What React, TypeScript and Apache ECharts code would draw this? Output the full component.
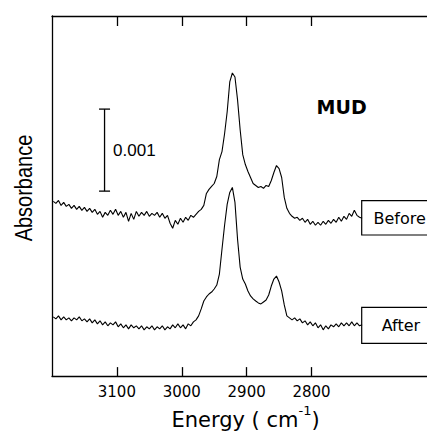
import React, { useEffect, useRef } from "react";
import * as echarts from "echarts";

// Energy grid (cm-1), shared by both spectra
const energy = [
  3198, 3194, 3190, 3186, 3182, 3178, 3174, 3170, 3166, 3162, 3158, 3154, 3150, 3146, 3142, 3138, 3134, 3130, 3126, 3122,
  3118, 3114, 3110, 3106, 3102, 3098, 3094, 3090, 3086, 3082, 3078, 3074, 3070, 3066, 3062, 3058, 3054, 3050, 3046, 3042,
  3038, 3034, 3030, 3026, 3022, 3018, 3014, 3010, 3006, 3002, 2998, 2994, 2990, 2986, 2982, 2978, 2974, 2970, 2966, 2962,
  2958, 2954, 2950, 2946, 2942, 2938, 2934, 2930, 2926, 2922, 2918, 2914, 2910, 2906, 2902, 2898, 2894, 2890, 2886, 2882,
  2878, 2874, 2870, 2866, 2862, 2858, 2854, 2850, 2846, 2842, 2838, 2834, 2830, 2826, 2822, 2818, 2814, 2810, 2806, 2802,
  2798, 2794, 2790, 2786, 2782, 2778, 2774, 2770, 2766, 2762, 2758, 2754, 2750, 2746, 2742, 2738, 2734, 2730, 2726, 2722,
];

// Absorbance (units of 0.001), offset spectra
const before = [
  2.130, 2.106, 2.142, 2.081, 2.118, 2.069, 2.093, 2.045, 2.081, 2.033, 2.069, 2.021, 2.057, 2.008, 2.045, 1.996, 2.033, 1.972, 2.008, 1.936,
  1.996, 1.960, 2.021, 1.972, 2.033, 1.960, 2.008, 1.936, 1.996, 1.887, 1.984, 1.911, 2.008, 1.948, 1.996, 1.960, 2.008, 1.948, 1.984, 1.960,
  1.996, 1.936, 1.984, 1.924, 1.960, 1.863, 1.802, 1.899, 1.851, 1.924, 1.875, 1.936, 1.899, 1.960, 1.936, 1.972, 2.008, 2.033, 2.081, 2.227,
  2.276, 2.312, 2.348, 2.433, 2.640, 2.737, 2.955, 3.222, 3.586, 3.695, 3.647, 3.368, 3.004, 2.700, 2.579, 2.494, 2.421, 2.348, 2.324, 2.300,
  2.312, 2.288, 2.324, 2.312, 2.385, 2.482, 2.567, 2.530, 2.421, 2.178, 2.045, 1.984, 1.948, 1.924, 1.936, 1.899, 1.924, 1.875, 1.911, 1.851,
  1.887, 1.839, 1.875, 1.839, 1.887, 1.851, 1.899, 1.863, 1.911, 1.875, 1.936, 1.887, 1.948, 1.911, 1.984, 1.948, 2.021, 1.960, 1.936, 1.924,
];

const after = [
  0.722, 0.698, 0.734, 0.686, 0.722, 0.686, 0.710, 0.674, 0.710, 0.686, 0.722, 0.674, 0.698, 0.661, 0.698, 0.649, 0.686, 0.637, 0.674, 0.625,
  0.661, 0.613, 0.649, 0.625, 0.661, 0.601, 0.637, 0.589, 0.625, 0.576, 0.625, 0.589, 0.613, 0.576, 0.613, 0.564, 0.601, 0.576, 0.613, 0.564,
  0.601, 0.576, 0.613, 0.564, 0.601, 0.576, 0.625, 0.589, 0.637, 0.589, 0.625, 0.576, 0.637, 0.613, 0.661, 0.686, 0.734, 0.819, 0.916, 0.965,
  1.001, 1.025, 1.062, 1.110, 1.244, 1.547, 1.839, 2.093, 2.239, 2.300, 2.118, 1.669, 1.329, 1.183, 1.123, 1.038, 0.977, 0.941, 0.916, 0.892,
  0.880, 0.904, 0.928, 0.989, 1.098, 1.183, 1.220, 1.147, 1.038, 0.868, 0.734, 0.710, 0.686, 0.710, 0.674, 0.698, 0.649, 0.674, 0.625, 0.661,
  0.613, 0.649, 0.589, 0.625, 0.564, 0.613, 0.576, 0.625, 0.601, 0.637, 0.601, 0.649, 0.613, 0.649, 0.613, 0.661, 0.613, 0.649, 0.613, 0.625,
];

const xTicks = [3100, 3000, 2900, 2800];
const xMin = 2622;
const xMax = 3200;
// Scale bar: [energy, bottom, top] -> 0.001 absorbance
const scaleBar = [[3119, 2.255, 3.255]];
const scaleBarLabel = "0.001";

const FONT = "DejaVu Sans";

export default function App() {
  const ref = useRef<HTMLDivElement>(null);
  useEffect(() => {
    if (!ref.current) return;
    const chart = echarts.init(ref.current, undefined, { renderer: "svg" });
    const axisLineStyle = { color: "#000", width: 1.3 };
    chart.setOption({
      animation: false,
      backgroundColor: "#fff",
      grid: { left: 52, top: 16, right: 0, height: 361.5, containLabel: false },
      xAxis: [
        {
          type: "value",
          min: xMin,
          max: xMax,
          inverse: true,
          position: "bottom",
          axisLine: { show: true, onZero: false, lineStyle: axisLineStyle },
          axisTick: { show: true, inside: true, length: 9, customValues: xTicks, lineStyle: axisLineStyle },
          axisLabel: {
            show: true,
            customValues: xTicks,
            margin: 8,
            color: "#000",
            fontFamily: FONT,
            fontSize: 15,
            formatter: (v: number) => String(v),
          },
          splitLine: { show: false },
          name: "{a|Energy ( cm}{s|-1}{a|)}",
          nameLocation: "middle",
          nameGap: 27,
          nameTextStyle: {
            padding: [0, 0, 0, 12],
            rich: {
              a: { fontFamily: FONT, fontSize: 21, color: "#000", lineHeight: 26, verticalAlign: "bottom" },
              s: { fontFamily: FONT, fontSize: 13, color: "#000", lineHeight: 26, verticalAlign: "top" },
            },
          },
        },
        {
          type: "value",
          min: xMin,
          max: xMax,
          inverse: true,
          position: "top",
          axisLine: { show: true, onZero: false, lineStyle: axisLineStyle },
          axisTick: { show: true, inside: true, length: 10, customValues: xTicks, lineStyle: axisLineStyle },
          axisLabel: { show: false },
          splitLine: { show: false },
        },
      ],
      yAxis: {
        type: "value",
        min: 0,
        max: 4.39,
        axisLine: { show: true, onZero: false, lineStyle: axisLineStyle },
        axisTick: { show: false },
        axisLabel: { show: false },
        splitLine: { show: false },
      },
      series: [
        {
          name: "Before",
          type: "line",
          xAxisIndex: 0,
          data: energy.map((e, i) => [e, before[i]]),
          showSymbol: false,
          symbol: "none",
          lineStyle: { color: "#000", width: 1.1 },
        },
        {
          name: "After",
          type: "line",
          xAxisIndex: 0,
          data: energy.map((e, i) => [e, after[i]]),
          showSymbol: false,
          symbol: "none",
          lineStyle: { color: "#000", width: 1.1 },
        },
        {
          type: "custom",
          xAxisIndex: 0,
          data: scaleBar,
          encode: { x: 0, y: [1, 2] },
          renderItem: (params: any, api: any) => {
            const x = api.value(0);
            const bot = api.coord([x, api.value(1)]);
            const top = api.coord([x, api.value(2)]);
            const w = 5.5;
            const st = { stroke: "#000", lineWidth: 1.3 };
            return {
              type: "group",
              children: [
                { type: "line", shape: { x1: top[0], y1: top[1], x2: bot[0], y2: bot[1] }, style: st },
                { type: "line", shape: { x1: top[0] - w, y1: top[1], x2: top[0] + w, y2: top[1] }, style: st },
                { type: "line", shape: { x1: bot[0] - w, y1: bot[1], x2: bot[0] + w, y2: bot[1] }, style: st },
                {
                  type: "text",
                  x: bot[0] + 8.5,
                  y: (top[1] + bot[1]) / 2,
                  style: {
                    text: scaleBarLabel,
                    fill: "#000",
                    font: `17px "Liberation Sans"`,
                    textAlign: "left",
                    textVerticalAlign: "middle",
                  },
                },
              ],
            };
          },
        },
      ],
      graphic: [
        {
          type: "text",
          x: 24,
          y: 188,
          rotation: Math.PI / 2,
          scaleY: 1.15,
          style: {
            text: "Absorbance",
            fill: "#000",
            font: `20px "Liberation Sans"`,
            textAlign: "center",
            textVerticalAlign: "middle",
          },
        },
        {
          type: "text",
          x: 341.6,
          y: 107,
          style: { text: "MUD", fill: "#000", font: `bold 19px "${FONT}"`, textAlign: "center", textVerticalAlign: "middle" },
        },
        {
          type: "rect",
          shape: { x: 361.7, y: 200.7, width: 90, height: 34.3 },
          style: { fill: "#fff", stroke: "#000", lineWidth: 1.2 },
        },
        {
          type: "text",
          x: 373.5,
          y: 218.5,
          style: { text: "Before", fill: "#000", font: `16px "${FONT}"`, textAlign: "left", textVerticalAlign: "middle" },
        },
        {
          type: "rect",
          shape: { x: 361.7, y: 307.3, width: 90, height: 36 },
          style: { fill: "#fff", stroke: "#000", lineWidth: 1.2 },
        },
        {
          type: "text",
          x: 381.7,
          y: 325.5,
          style: { text: "After", fill: "#000", font: `16px "${FONT}"`, textAlign: "left", textVerticalAlign: "middle" },
        },
      ],
    });
    return () => chart.dispose();
  }, []);
  return <div ref={ref} style={{ position: "fixed", left: 0, top: 0, width: 427, height: 435 }} />;
}
